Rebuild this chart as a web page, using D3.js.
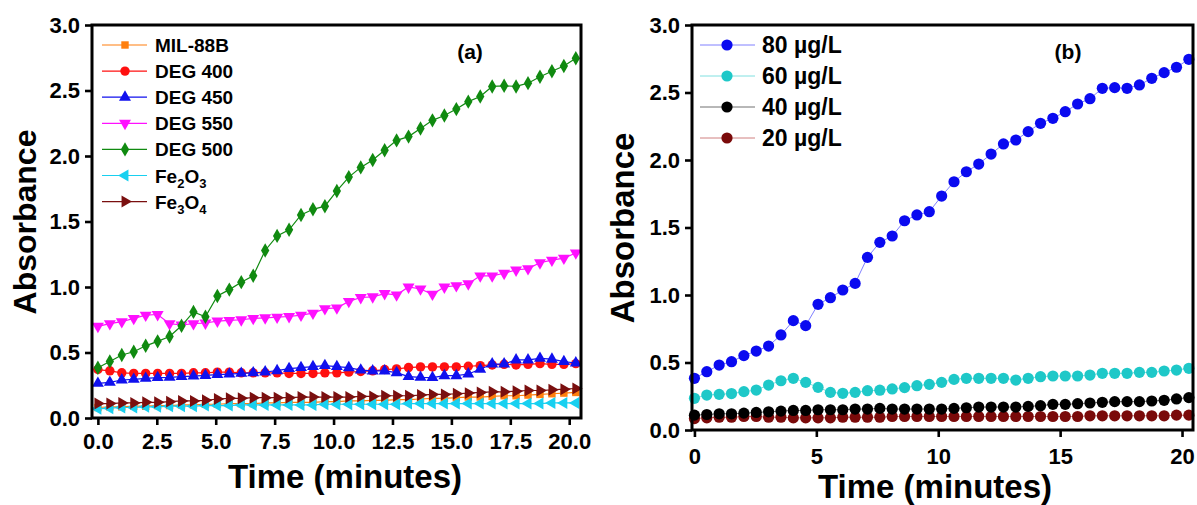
<!DOCTYPE html>
<html>
<head>
<meta charset="utf-8">
<script src="https://cdn.jsdelivr.net/npm/d3@7"></script>
<style>
  body { margin: 0; background: #fff; }
  svg { display: block; font-family: "Liberation Sans", Arial, sans-serif; }
</style>
</head>
<body>
<svg id="chart" width="1197" height="505"></svg>
<script>
// ---------- DATA ----------
const times = [0, 0.507, 1.014, 1.521, 2.028, 2.535, 3.042, 3.549, 4.056, 4.563, 5.07, 5.577, 6.084, 6.591, 7.098, 7.605, 8.112, 8.619, 9.126, 9.633, 10.14, 10.647, 11.154, 11.661, 12.168, 12.675, 13.182, 13.689, 14.196, 14.703, 15.21, 15.717, 16.224, 16.731, 17.238, 17.745, 18.252, 18.759, 19.266, 19.773, 20.28];

// Panel (a)
const mil88b = [0.08, 0.085, 0.085, 0.09, 0.09, 0.095, 0.095, 0.10, 0.10, 0.105, 0.105, 0.11, 0.11, 0.11, 0.115, 0.115, 0.12, 0.12, 0.12, 0.125, 0.125, 0.13, 0.13, 0.135, 0.135, 0.14, 0.14, 0.145, 0.15, 0.15, 0.155, 0.16, 0.16, 0.165, 0.17, 0.17, 0.175, 0.18, 0.185, 0.19, 0.195];
const deg400 = [0.37, 0.36, 0.345, 0.34, 0.34, 0.34, 0.34, 0.34, 0.345, 0.345, 0.35, 0.35, 0.345, 0.345, 0.345, 0.345, 0.34, 0.34, 0.34, 0.345, 0.345, 0.35, 0.355, 0.36, 0.37, 0.375, 0.385, 0.39, 0.39, 0.39, 0.39, 0.395, 0.40, 0.405, 0.41, 0.405, 0.41, 0.415, 0.41, 0.41, 0.415];
const deg450 = [0.265, 0.272, 0.29, 0.295, 0.303, 0.308, 0.31, 0.316, 0.32, 0.325, 0.331, 0.335, 0.341, 0.345, 0.351, 0.361, 0.377, 0.385, 0.392, 0.40, 0.392, 0.384, 0.366, 0.359, 0.359, 0.346, 0.316, 0.31, 0.308, 0.323, 0.323, 0.336, 0.372, 0.412, 0.412, 0.443, 0.443, 0.455, 0.449, 0.43, 0.42];
const deg550 = [0.70, 0.72, 0.735, 0.76, 0.785, 0.79, 0.72, 0.71, 0.72, 0.725, 0.74, 0.745, 0.75, 0.76, 0.765, 0.77, 0.775, 0.785, 0.80, 0.835, 0.84, 0.89, 0.92, 0.925, 0.95, 0.94, 1.0, 0.985, 0.945, 1.0, 1.01, 1.025, 1.085, 1.085, 1.105, 1.13, 1.14, 1.185, 1.205, 1.22, 1.26];
const deg500 = [0.383, 0.432, 0.481, 0.506, 0.551, 0.585, 0.622, 0.704, 0.81, 0.773, 0.931, 0.98, 1.037, 1.086, 1.279, 1.39, 1.437, 1.55, 1.593, 1.617, 1.733, 1.839, 1.913, 1.97, 2.044, 2.119, 2.148, 2.21, 2.272, 2.309, 2.358, 2.415, 2.454, 2.531, 2.536, 2.531, 2.556, 2.605, 2.647, 2.687, 2.746];
const fe2o3 = [0.07, 0.075, 0.08, 0.08, 0.085, 0.085, 0.09, 0.09, 0.09, 0.095, 0.095, 0.095, 0.10, 0.10, 0.10, 0.10, 0.10, 0.10, 0.10, 0.105, 0.105, 0.105, 0.105, 0.105, 0.105, 0.105, 0.11, 0.11, 0.11, 0.11, 0.11, 0.11, 0.11, 0.11, 0.11, 0.11, 0.11, 0.11, 0.115, 0.115, 0.115];
const fe3o4 = [0.11, 0.11, 0.115, 0.115, 0.12, 0.12, 0.125, 0.13, 0.13, 0.135, 0.145, 0.15, 0.15, 0.155, 0.155, 0.155, 0.155, 0.16, 0.16, 0.16, 0.16, 0.16, 0.165, 0.165, 0.17, 0.17, 0.17, 0.175, 0.18, 0.18, 0.185, 0.19, 0.195, 0.20, 0.20, 0.205, 0.21, 0.21, 0.215, 0.22, 0.225];

// Panel (b)
const c80 = [0.383, 0.432, 0.481, 0.506, 0.551, 0.585, 0.622, 0.704, 0.81, 0.773, 0.931, 0.98, 1.037, 1.086, 1.279, 1.39, 1.437, 1.55, 1.593, 1.617, 1.733, 1.839, 1.913, 1.97, 2.044, 2.119, 2.148, 2.21, 2.272, 2.309, 2.358, 2.415, 2.454, 2.531, 2.536, 2.531, 2.556, 2.605, 2.647, 2.687, 2.746];
const c60 = [0.235, 0.259, 0.264, 0.27, 0.284, 0.296, 0.333, 0.365, 0.383, 0.353, 0.316, 0.279, 0.272, 0.279, 0.291, 0.295, 0.304, 0.314, 0.328, 0.338, 0.353, 0.375, 0.383, 0.383, 0.383, 0.383, 0.37, 0.383, 0.395, 0.40, 0.40, 0.40, 0.407, 0.42, 0.42, 0.42, 0.427, 0.427, 0.437, 0.444, 0.457];
const c40 = [0.11, 0.115, 0.12, 0.12, 0.125, 0.13, 0.135, 0.14, 0.145, 0.145, 0.15, 0.15, 0.15, 0.155, 0.155, 0.16, 0.155, 0.155, 0.155, 0.155, 0.155, 0.16, 0.165, 0.17, 0.17, 0.17, 0.17, 0.175, 0.18, 0.19, 0.19, 0.195, 0.20, 0.205, 0.21, 0.21, 0.21, 0.215, 0.22, 0.23, 0.24];
const c20 = [0.085, 0.09, 0.095, 0.095, 0.10, 0.10, 0.095, 0.095, 0.09, 0.09, 0.09, 0.09, 0.095, 0.095, 0.095, 0.095, 0.10, 0.10, 0.10, 0.10, 0.10, 0.10, 0.10, 0.10, 0.10, 0.10, 0.10, 0.10, 0.10, 0.10, 0.10, 0.10, 0.105, 0.105, 0.105, 0.105, 0.105, 0.105, 0.105, 0.11, 0.11];

const xTicksA = [0, 2.5, 5, 7.5, 10, 12.5, 15, 17.5, 20];
const xTicksB = [0, 5, 10, 15, 20];
const yTicks = [0, 0.5, 1, 1.5, 2, 2.5, 3];

// ---------- SERIES DEFINITIONS ----------
const seriesA = [
  { name: "MIL-88B", sub: null, values: mil88b, color: "#ff7f0e", symbol: "square", rot: 0 },
  { name: "DEG 400", sub: null, values: deg400, color: "#ff1010", symbol: "circle", rot: 0 },
  { name: "DEG 450", sub: null, values: deg450, color: "#1010ee", symbol: "triangle", rot: 0 },
  { name: "DEG 550", sub: null, values: deg550, color: "#ff10ff", symbol: "triangle", rot: 180 },
  { name: "DEG 500", sub: null, values: deg500, color: "#108a10", symbol: "diamond", rot: 0 },
  { name: "Fe2O3", sub: ["Fe", "2", "O", "3"], values: fe2o3, color: "#18d0f0", symbol: "triangle", rot: -90 },
  { name: "Fe3O4", sub: ["Fe", "3", "O", "4"], values: fe3o4, color: "#7a0f0f", symbol: "triangle", rot: 90 }
];
const seriesB = [
  { name: "80 µg/L", values: c80, color: "#0a0af0", line: "#8080ff" },
  { name: "60 µg/L", values: c60, color: "#1ec8c8", line: "#80e0e0" },
  { name: "40 µg/L", values: c40, color: "#000000", line: "#707070" },
  { name: "20 µg/L", values: c20, color: "#7a0a0a", line: "#d08080" }
];

const svg = d3.select("#chart");

const symbolTypes = {
  square: d3.symbolSquare, circle: d3.symbolCircle,
  triangle: d3.symbolTriangle, diamond: d3.symbolDiamond
};
const symbolSizes = { square: 55, circle: 70, triangle: 62, diamond: 60 };

function drawFrame(g, x, y, xTicks, fmt, xPad, yPad) {
  const [x0, x1] = x.range();
  const [y0, y1] = y.range(); // y0 bottom, y1 top
  const xa = g.append("g").attr("transform", `translate(0,${y0})`)
    .call(d3.axisBottom(x).tickValues(xTicks).tickFormat(fmt).tickSize(7).tickPadding(xPad));
  const ya = g.append("g").attr("transform", `translate(${x0},0)`)
    .call(d3.axisLeft(y).tickValues(yTicks).tickFormat(d3.format(".1f")).tickSize(7).tickPadding(yPad));
  [xa, ya].forEach(a => {
    a.select(".domain").remove();
    a.selectAll(".tick line").attr("stroke", "#000").attr("stroke-width", 2.6);
    a.selectAll(".tick text").attr("fill", "#000").attr("font-size", 22)
      .attr("font-weight", "bold").attr("font-family", "Liberation Sans, Arial, sans-serif");
  });
  g.append("rect").attr("x", x0).attr("y", y1).attr("width", x1 - x0).attr("height", y0 - y1)
    .attr("fill", "none").attr("stroke", "#000").attr("stroke-width", 3);
}

// ---------- PANEL (a) ----------
const xA = d3.scaleLinear().domain([-0.25, 20.5]).range([92, 581]);
const yA = d3.scaleLinear().domain([0, 3]).range([418, 25]);
const gA = svg.append("g");

const plotA = gA.append("g");
seriesA.forEach(s => {
  const pts = times.map((t, i) => [t, s.values[i]]);
  plotA.append("path").datum(pts)
    .attr("fill", "none").attr("stroke", s.color).attr("stroke-width", 1.2)
    .attr("d", d3.line().x(d => xA(d[0])).y(d => yA(d[1])));
  const sym = d3.symbol().type(symbolTypes[s.symbol]).size(symbolSizes[s.symbol]);
  plotA.selectAll(null).data(pts).enter().append("path")
    .attr("d", sym)
    .attr("fill", s.color)
    .attr("transform", d => `translate(${xA(d[0])},${yA(d[1])}) rotate(${s.rot})`);
});

drawFrame(gA, xA, yA, xTicksA, d3.format(".1f"), 8, 5);

// Legend (a)
const legA = gA.append("g");
seriesA.forEach((s, i) => {
  const ly = 45 + i * 26.1;
  legA.append("line").attr("x1", 102).attr("x2", 147).attr("y1", ly).attr("y2", ly)
    .attr("stroke", s.color).attr("stroke-width", 1.2);
  legA.append("path")
    .attr("d", d3.symbol().type(symbolTypes[s.symbol]).size(symbolSizes[s.symbol])())
    .attr("fill", s.color)
    .attr("transform", `translate(125,${ly}) rotate(${s.rot})`);
  const t = legA.append("text").attr("x", 155).attr("y", ly + 7)
    .attr("font-size", 19).attr("font-weight", "bold").attr("fill", "#000");
  if (s.sub) {
    t.append("tspan").text(s.sub[0]);
    t.append("tspan").text(s.sub[1]).attr("font-size", 13).attr("dy", 5);
    t.append("tspan").text(s.sub[2]).attr("dy", -5);
    t.append("tspan").text(s.sub[3]).attr("font-size", 13).attr("dy", 5);
  } else {
    t.text(s.name);
  }
});

gA.append("text").attr("x", 470).attr("y", 59).attr("text-anchor", "middle")
  .attr("font-size", 21).attr("font-weight", "bold").text("(a)");

gA.append("text").attr("x", 345).attr("y", 488).attr("text-anchor", "middle")
  .attr("font-size", 33).attr("font-weight", "bold").text("Time (minutes)");
gA.append("text").attr("transform", "translate(36,222) rotate(-90)").attr("text-anchor", "middle")
  .attr("font-size", 32).attr("font-weight", "bold").text("Absorbance");

// ---------- PANEL (b) ----------
const xB = d3.scaleLinear().domain([-0.1, 20.45]).range([692, 1193]);
const yB = d3.scaleLinear().domain([0, 3]).range([430, 25]);
const gB = svg.append("g");
const plotB = gB.append("g");

seriesB.slice().reverse().forEach(s => {
  const pts = times.map((t, i) => [t, s.values[i]]);
  plotB.append("path").datum(pts)
    .attr("fill", "none").attr("stroke", s.line).attr("stroke-width", 1)
    .attr("d", d3.line().x(d => xB(d[0])).y(d => yB(d[1])));
  plotB.selectAll(null).data(pts).enter().append("circle")
    .attr("cx", d => xB(d[0])).attr("cy", d => yB(d[1])).attr("r", 5.6)
    .attr("fill", s.color);
});

drawFrame(gB, xB, yB, xTicksB, d3.format("d"), 11, 5);

const legB = gB.append("g");
seriesB.forEach((s, i) => {
  const ly = 45 + i * 31;
  legB.append("line").attr("x1", 700).attr("x2", 755).attr("y1", ly).attr("y2", ly)
    .attr("stroke", s.line).attr("stroke-width", 1);
  legB.append("circle").attr("cx", 727).attr("cy", ly).attr("r", 5.6).attr("fill", s.color);
  legB.append("text").attr("x", 762).attr("y", ly + 8)
    .attr("font-size", 23).attr("font-weight", "bold").attr("fill", "#000").text(s.name);
});

gB.append("text").attr("x", 1068).attr("y", 59).attr("text-anchor", "middle")
  .attr("font-size", 21).attr("font-weight", "bold").text("(b)");

gB.append("text").attr("x", 935).attr("y", 498).attr("text-anchor", "middle")
  .attr("font-size", 33).attr("font-weight", "bold").text("Time (minutes)");
gB.append("text").attr("transform", "translate(634,228) rotate(-90)").attr("text-anchor", "middle")
  .attr("font-size", 33).attr("font-weight", "bold").text("Absorbance");
</script>
</body>
</html>
